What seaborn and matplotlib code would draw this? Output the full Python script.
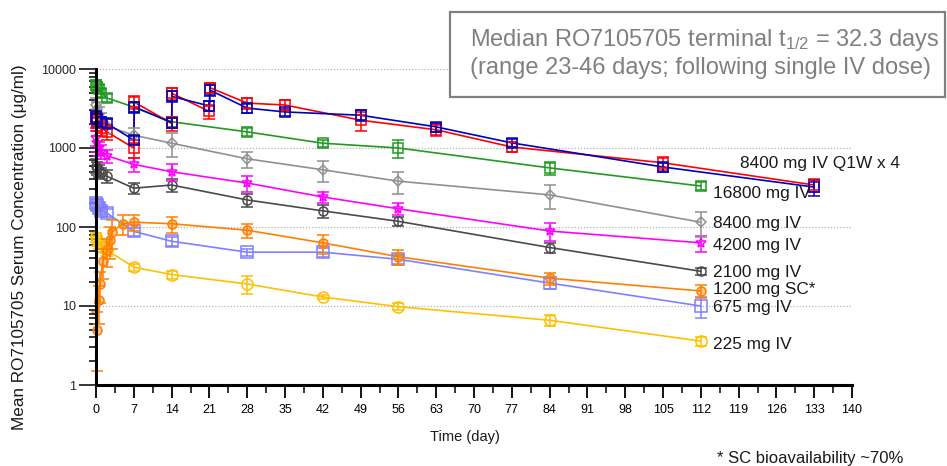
import matplotlib
matplotlib.use("Agg")
import matplotlib.pyplot as plt
import numpy as np
import pandas as pd
import seaborn as sns
from matplotlib.patches import Rectangle
from matplotlib.ticker import FixedLocator, LogLocator, MultipleLocator, NullFormatter

# ---------------- data ----------------
days_iv = [0.04, 0.25, 0.5, 1, 2, 7, 14, 28, 42, 56, 84, 112]
days_sc = [0.17, 0.5, 0.75, 1.25, 2, 2.5, 3, 5, 7, 14, 28, 42, 56, 84, 112]
days_q1w = [0.04, 0.25, 1, 2, 7, 7.1, 14, 14.1, 21, 21.1, 28, 35, 49, 63, 77, 105, 133]

mean_225 = [75, 68, 62, 56, 51, 31, 25, 19, 13, 9.8, 6.6, 3.6]
sd_225 = [10, 10, 9, 8, 8, 3, 3, 5, 0.6, 1, 1, 0.5]
mean_675 = [200, 190, 175, 160, 150, 88, 66, 48, 48, 39, 19.5, 10]
sd_675 = [25, 25, 20, 20, 18, 10, 8, 5, 6, 5, 3, 3]
mean_1200sc = [5, 12, 19, 37, 51, 69, 87, 110, 115, 110, 91, 63, 42, 22.5, 15.5]
sd_1200sc = [3.5, 6, 8, 15, 20, 30, 35, 30, 25, 25, 18, 17, 9, 4, 3]
mean_2100 = [600, 560, 520, 480, 440, 310, 340, 220, 160, 118, 55, 27.5]
sd_2100 = [120, 100, 90, 80, 80, 50, 60, 40, 30, 15, 8, 3]
mean_4200 = [1350, 1150, 1000, 900, 800, 620, 500, 360, 240, 170, 89, 63]
sd_4200 = [300, 250, 200, 180, 150, 130, 120, 80, 40, 30, 22, 15]
mean_8400 = [3500, 3100, 2700, 2300, 1900, 1450, 1150, 730, 530, 380, 255, 115]
sd_8400 = [800, 700, 600, 500, 400, 350, 380, 170, 160, 120, 85, 40]
mean_16800 = [6300, 6000, 5600, 5000, 4300, 3300, 2150, 1600, 1150, 1000, 560, 330]
sd_16800 = [900, 800, 700, 600, 500, 450, 300, 200, 110, 250, 100, 40]
mean_q1w_a = [2300, 2100, 1800, 1600, 1000, 3800, 2050, 4900, 2900, 5800, 3700, 3500, 2250, 1700, 1030, 650, 340]
sd_q1w_a = [500, 450, 400, 350, 250, 700, 400, 900, 600, 900, 600, 600, 600, 300, 150, 120, 60]
mean_q1w_b = [2500, 2300, 2150, 2050, 1260, 3300, 2100, 4500, 3400, 5400, 3200, 2860, 2600, 1850, 1160, 575, 320]
sd_q1w_b = [400, 400, 350, 300, 150, 500, 300, 700, 500, 800, 400, 300, 400, 250, 130, 80, 70]

series_names = ["225 mg IV", "675 mg IV", "1200 mg SC*", "2100 mg IV", "4200 mg IV",
                "8400 mg IV", "16800 mg IV", "8400 mg IV Q1W x 4 (A)", "8400 mg IV Q1W x 4 (B)"]
series_days = [days_iv, days_iv, days_sc, days_iv, days_iv, days_iv, days_iv, days_q1w, days_q1w]
series_mean = [mean_225, mean_675, mean_1200sc, mean_2100, mean_4200, mean_8400, mean_16800, mean_q1w_a, mean_q1w_b]
series_sd = [sd_225, sd_675, sd_1200sc, sd_2100, sd_4200, sd_8400, sd_16800, sd_q1w_a, sd_q1w_b]

label_texts = ["225 mg IV", "675 mg IV", "1200 mg SC*", "2100 mg IV", "4200 mg IV",
               "8400 mg IV", "16800 mg IV", "8400 mg IV Q1W x 4"]
label_day = [114.3, 114.3, 114.3, 114.3, 114.3, 114.3, 114.3, 119.3]
label_conc = [3.3, 9.6, 16.0, 26.5, 58, 112, 262, 630]

x_ticks = list(range(0, 141, 7))
y_ticks = [1, 10, 100, 1000, 10000]
y_ticklabels = ["1", "10", "100", "1000", "10000"]

# ---------------- styles ----------------
colors = ["#ffc000", "#8080ff", "#ff8000", "#4a4a4a", "#ff00ff",
          "#909090", "#229a22", "#ff0000", "#0000c0"]
markers = ["o", "s", "o", "o", "*", "D", "s", "s", "s"]
msizes = [8, 8, 6.5, 6.5, 8, 5.5, 6.5, 6.5, 6.5]

sns.set_style("white")
plt.rcParams["font.family"] = ["Liberation Sans", "DejaVu Sans"]
plt.rcParams["mathtext.fontset"] = "custom"
plt.rcParams["mathtext.rm"] = "Liberation Sans"
plt.rcParams["mathtext.it"] = "Liberation Sans"

fig = plt.figure(figsize=(9.47, 4.66), dpi=100)
W, H = 947, 466
ax = fig.add_axes([96 / W, 1 - 385 / H, (852 - 96) / W, (385 - 69) / H])

rows = []
for name, d, m in zip(series_names, series_days, series_mean):
    for dd, mm in zip(d, m):
        rows.append((name, dd, mm))
df = pd.DataFrame(rows, columns=["group", "day", "conc"])

sns.lineplot(data=df, x="day", y="conc", hue="group", hue_order=series_names,
             palette=dict(zip(series_names, colors)), estimator=None, sort=False,
             legend=False, lw=1.2, ax=ax, zorder=2)

for i, (d, m, s) in enumerate(zip(series_days, series_mean, series_sd)):
    c = colors[i]
    mfc = (1, 0.5, 0, 0.45) if series_names[i] == "1200 mg SC*" else "none"
    ax.errorbar(d, m, yerr=s, fmt=markers[i], ms=msizes[i], mfc=mfc, mec=c, mew=1.1,
                ecolor=c, elinewidth=1.1, capsize=4, capthick=1.1, zorder=3 + i * 0.1,
                clip_on=False)

ax.set_yscale("log")
ax.set_xlim(0, 140)
ax.set_ylim(1, 10000)
ax.set_xlabel("")
ax.set_ylabel("")

ax.xaxis.set_major_locator(FixedLocator(x_ticks))
ax.set_xticklabels([str(t) for t in x_ticks])
ax.xaxis.set_minor_locator(MultipleLocator(3.5))
ax.yaxis.set_major_locator(FixedLocator(y_ticks))
ax.set_yticklabels(y_ticklabels)
ax.yaxis.set_minor_locator(LogLocator(base=10, subs=np.arange(2, 10)))
ax.yaxis.set_minor_formatter(NullFormatter())

ax.tick_params(axis="x", which="major", direction="out", length=9.5, width=1.3,
               pad=4, labelsize=9, colors="black")
ax.tick_params(axis="x", which="minor", direction="out", length=5.5, width=1.3)
ax.tick_params(axis="y", which="major", direction="out", length=12, width=1.3,
               pad=2, labelsize=9)
ax.tick_params(axis="y", which="minor", direction="out", length=5, width=1.3)
ax.tick_params(bottom=True, left=True, which="both")

for sp in ["top", "right"]:
    ax.spines[sp].set_visible(False)
for sp in ["left", "bottom"]:
    ax.spines[sp].set_color("black")
    ax.spines[sp].set_linewidth(2.2)
    ax.spines[sp].set_zorder(5)

ax.grid(False)
for yv in y_ticks[1:]:
    ax.axhline(yv, color="#b4b4b4", lw=0.9, ls=(0, (1, 1.5)), zorder=1)

for t, dx, cy in zip(label_texts, label_day, label_conc):
    ax.text(dx, cy, t, fontsize=12.4, color="#1a1a1a", ha="left", va="center",
            clip_on=False, zorder=6)

fig.text(20 / W, 1 - 247 / H, "Mean RO7105705 Serum Concentration (\u03bcg/ml)",
         rotation=90, ha="center", va="center", fontsize=12.3, color="#1a1a1a")
fig.text(465 / W, 1 - 437 / H, "Time (day)", ha="center", va="center",
         fontsize=10.5, color="#1a1a1a")
fig.text(810 / W, 1 - 459 / H, "* SC bioavailability ~70%", ha="center", va="center",
         fontsize=12, color="#1a1a1a")

box = Rectangle((450 / W, 1 - 97 / H), (945 - 450) / W, (97 - 12) / H,
                transform=fig.transFigure, facecolor="white", edgecolor="#808080",
                lw=1.6, zorder=10)
fig.add_artist(box)
fig.text(470 / W, 1 - 40 / H, "Median RO7105705 terminal t$_{1/2}$ = 32.3 days",
         ha="left", va="center", fontsize=17, color="#808080", zorder=11)
fig.text(470 / W, 1 - 68 / H, "(range 23-46 days; following single IV dose)",
         ha="left", va="center", fontsize=17, color="#808080", zorder=11)

fig.savefig("out.png", dpi=100)
